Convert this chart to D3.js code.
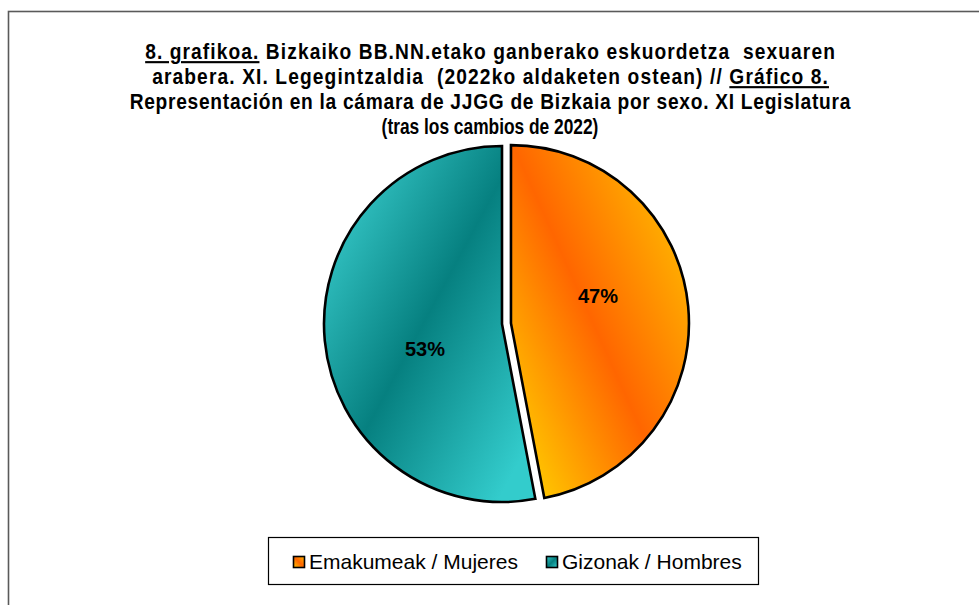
<!DOCTYPE html>
<html>
<head>
<meta charset="utf-8">
<script src="https://cdn.jsdelivr.net/npm/d3@7"></script>
<style>
  html, body { margin: 0; padding: 0; background: #fff; }
  svg { display: block; }
</style>
</head>
<body>
<div id="chart"></div>
<script>
(function () {
  "use strict";

  /* ---- data ---- */
  const categories = ["Emakumeak / Mujeres", "Gizonak / Hombres"];
  const values = [47, 53];
  const valueLabels = ["47%", "53%"];
  const titleLines = [
    [{ t: "8. grafikoa.", u: true }, { t: " Bizkaiko BB.NN.etako ganberako eskuordetza  sexuaren" }],
    [{ t: "arabera. XI. Legegintzaldia  (2022ko aldaketen ostean) // " }, { t: "Gráfico 8.", u: true }],
    [{ t: "Representación en la cámara de JJGG de Bizkaia por sexo. XI Legislatura" }],
    [{ t: "(tras los cambios de 2022)" }]
  ];

  const WIDTH = 979;
  const HEIGHT = 605;
  const FONT = "'Liberation Sans', Arial, sans-serif";
  const CX = 502, CY = 324, R = 178;
  const EXPLODE = [9, 0];
  const NARROW = 0.9; // title was set in a narrower face

  const svg = d3.select("#chart").append("svg")
    .attr("width", WIDTH).attr("height", HEIGHT);

  /* outer frame (runs off the right / bottom edge) */
  svg.append("rect")
    .attr("x", 8.5).attr("y", 11.5)
    .attr("width", WIDTH + 20).attr("height", HEIGHT + 20)
    .attr("fill", "#fff")
    .attr("stroke", "#5a5a5a")
    .attr("stroke-width", 1.6);

  /* ---- gradients (coordinates are local to each slice's centre) ---- */
  const defs = svg.append("defs");
  function linGrad(id, p1, p2, stops, units) {
    const g = defs.append("linearGradient").attr("id", id)
      .attr("gradientUnits", units || "userSpaceOnUse")
      .attr("x1", p1[0]).attr("y1", p1[1]).attr("x2", p2[0]).attr("y2", p2[1]);
    stops.forEach(function (s) {
      g.append("stop").attr("offset", s[0]).attr("stop-color", s[1]);
    });
  }

  const pie = d3.pie().sort(null).value(function (d) { return d; });
  const arcs = pie(values);
  const arc = d3.arc().innerRadius(0).outerRadius(R);

  const centers = arcs.map(function (a, i) {
    const mid = (a.startAngle + a.endAngle) / 2;
    return [CX + EXPLODE[i] * Math.sin(mid), CY - EXPLODE[i] * Math.cos(mid)];
  });

  // orange slice: yellow bottom-left -> deep orange band -> light orange top-right
  (function () {
    const band = [81, 0];
    const n = [0.91, -0.41];
    linGrad("gradF", [band[0] - 118 * n[0], band[1] - 118 * n[1]],
      [band[0] + 120 * n[0], band[1] + 120 * n[1]],
      [[0, "#FFC600"], [0.5, "#FF6600"], [1, "#FFB400"]]);
  })();
  // teal slice: light upper-left -> dark band -> light lower-right
  (function () {
    const band = [-79, 0];
    const n = [0.88, 0.475];
    linGrad("gradM", [band[0] - 135 * n[0], band[1] - 135 * n[1]],
      [band[0] + 150 * n[0], band[1] + 150 * n[1]],
      [[0, "#36C8C8"], [135 / 285, "#068080"], [1, "#33CCCC"]]);
  })();
  linGrad("legF", [0, 1], [1, 0], [[0, "#FFC400"], [0.5, "#FF6600"], [1, "#FFB400"]], "objectBoundingBox");
  linGrad("legM", [0, 0], [1, 1], [[0, "#33C6C6"], [0.5, "#068080"], [1, "#33CCCC"]], "objectBoundingBox");
  const fills = ["url(#gradF)", "url(#gradM)"];
  const legFills = ["url(#legF)", "url(#legM)"];

  /* ---- pie ---- */
  const gPie = svg.append("g");
  gPie.selectAll("path")
    .data(arcs)
    .enter().append("path")
    .attr("transform", function (d, i) { return "translate(" + centers[i][0] + "," + centers[i][1] + ")"; })
    .attr("d", arc)
    .attr("fill", function (d, i) { return fills[i]; })
    .attr("stroke", "#000")
    .attr("stroke-width", 2.6)
    .attr("stroke-linejoin", "miter");

  /* labels: placed like the spreadsheet did, a bit ahead of the mid angle */
  const LABEL_R = 86, LABEL_SHIFT = -12 * Math.PI / 180;
  gPie.selectAll("text")
    .data(arcs)
    .enter().append("text")
    .attr("x", function (d, i) {
      const a = (d.startAngle + d.endAngle) / 2 + LABEL_SHIFT;
      return centers[i][0] + LABEL_R * Math.sin(a) + 5;
    })
    .attr("y", function (d, i) {
      const a = (d.startAngle + d.endAngle) / 2 + LABEL_SHIFT;
      return centers[i][1] - LABEL_R * Math.cos(a) - 1;
    })
    .attr("dy", "0.35em")
    .attr("text-anchor", "middle")
    .style("font-family", FONT)
    .style("font-weight", "bold")
    .style("font-size", "20px")
    .attr("fill", "#000")
    .text(function (d, i) { return valueLabels[i]; });

  /* ---- title: narrowed glyphs, spread to the original line widths ---- */
  const titleBase = [59, 84, 109, 134];
  const titleWidth = [690, 676, 721, 217];
  const gTitle = svg.append("g");
  titleLines.forEach(function (parts, li) {
    const g = gTitle.append("g");
    const txt = g.append("text")
      .attr("x", 0).attr("y", 0)
      .attr("text-anchor", "middle")
      .style("font-family", FONT)
      .style("font-weight", "bold")
      .style("font-size", "21.3px")
      .attr("fill", "#000");
    parts.forEach(function (p) {
      txt.append("tspan")
        .style("text-decoration", p.u ? "underline" : null)
        .style("white-space", "pre")
        .attr("xml:space", "preserve")
        .text(p.t);
    });
    const nChars = parts.reduce(function (s, p) { return s + p.t.length; }, 0);
    const w = txt.node().getComputedTextLength();
    const sx = Math.min(NARROW, titleWidth[li] / w);
    const ls = Math.max(0, (titleWidth[li] / sx - w) / (nChars - 1));
    txt.style("letter-spacing", ls + "px").attr("dx", ls / 2);
    g.attr("transform", "translate(490," + titleBase[li] + ") scale(" + sx + ",1)");
  });

  /* ---- legend ---- */
  const gLeg = svg.append("g");
  gLeg.append("rect")
    .attr("x", 268.5).attr("y", 537.5)
    .attr("width", 490).attr("height", 47)
    .attr("fill", "#fff").attr("stroke", "#000").attr("stroke-width", 1.2);
  const legX = [293, 546];
  categories.forEach(function (c, i) {
    gLeg.append("rect")
      .attr("x", legX[i] + 0.5).attr("y", 556.5)
      .attr("width", 11).attr("height", 11)
      .attr("fill", legFills[i])
      .attr("stroke", "#000").attr("stroke-width", 1.6);
    gLeg.append("text")
      .attr("x", legX[i] + 16).attr("y", 562)
      .attr("dy", "0.35em")
      .style("font-family", FONT)
      .style("font-size", "21px")
      .attr("fill", "#000")
      .text(c);
  });
})();
</script>
</body>
</html>
